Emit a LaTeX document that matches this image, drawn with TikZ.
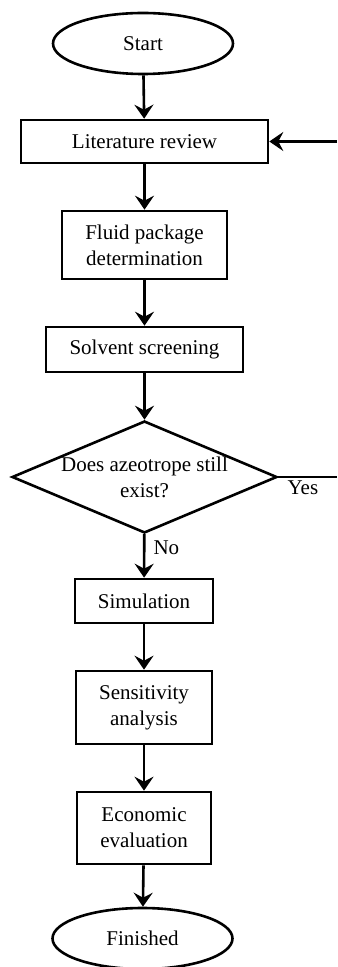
\documentclass[tikz,border=0pt]{standalone}
\usepackage{fontspec}
\setmainfont{Liberation Serif}
\usetikzlibrary{shapes.geometric, arrows.meta}

\tikzset{
	every node/.style={font=\fontsize{10.5}{13}\selectfont},
	block/.style={draw, line width=1.3pt, rectangle, align=center, inner sep=0pt},
	terminal/.style={draw, line width=1.3pt, ellipse, inner sep=0pt, minimum width=90pt, minimum height=30.5pt},
	decision/.style={draw, line width=1.3pt, diamond, aspect=2.37, inner sep=-8pt, align=center, minimum width=132.5pt, minimum height=56pt},
	flow/.style={line width=1.3pt, -{Stealth[length=7pt, width=9.5pt, inset=2.5pt]}}
}

\begin{document}
\begin{tikzpicture}[x=0.5pt, y=-0.5pt]
		\useasboundingbox (0,0) rectangle (337,967);
		% start and end
		\node[terminal] (start) at (143,43.5) {Start};
		\node[terminal] (finished) at (142.5,938.5) {Finished};
		% steps
		\node[block, minimum width=123.5pt, minimum height=21.5pt] (lit) at (144.5,141.5) {Literature review};
		\node[block, minimum width=82.5pt, minimum height=34pt] (fluid) at (144.5,245) {Fluid package\\determination};
		\node[block, minimum width=98.5pt, minimum height=22.5pt] (solvent) at (144.5,349.5) {Solvent screening};
		\node[decision] (exist) at (144.5,477) {Does azeotrope still\\exist?};
		\node[block, minimum width=69pt, minimum height=22pt] (sim) at (144,601) {Simulation};
		\node[block, minimum width=68pt, minimum height=36.5pt] (sens) at (144,707.5) {Sensitivity\\analysis};
		\node[block, minimum width=67pt, minimum height=36pt] (econ) at (144,828) {Economic\\evaluation};
		% loop back
		\coordinate (loopin) at (337,141.5);
		\coordinate (loopout) at (337,477);
		% arrows
		\foreach \a/\b in {start/lit, lit/fluid, fluid/solvent, solvent/exist, sim/sens, sens/econ, econ/finished}
		{
			\draw[flow] (\a) -- (\b);
		}
		\draw[flow] (exist) -- node[right, pos=0.3, inner sep=4pt] {No} (sim);
		\draw[line width=1.3pt] (exist.east) -- node[below, pos=0.42, inner sep=1pt] {Yes} (loopout);
		\draw[flow] (loopin) -- (lit);
	\end{tikzpicture}
\end{document}
